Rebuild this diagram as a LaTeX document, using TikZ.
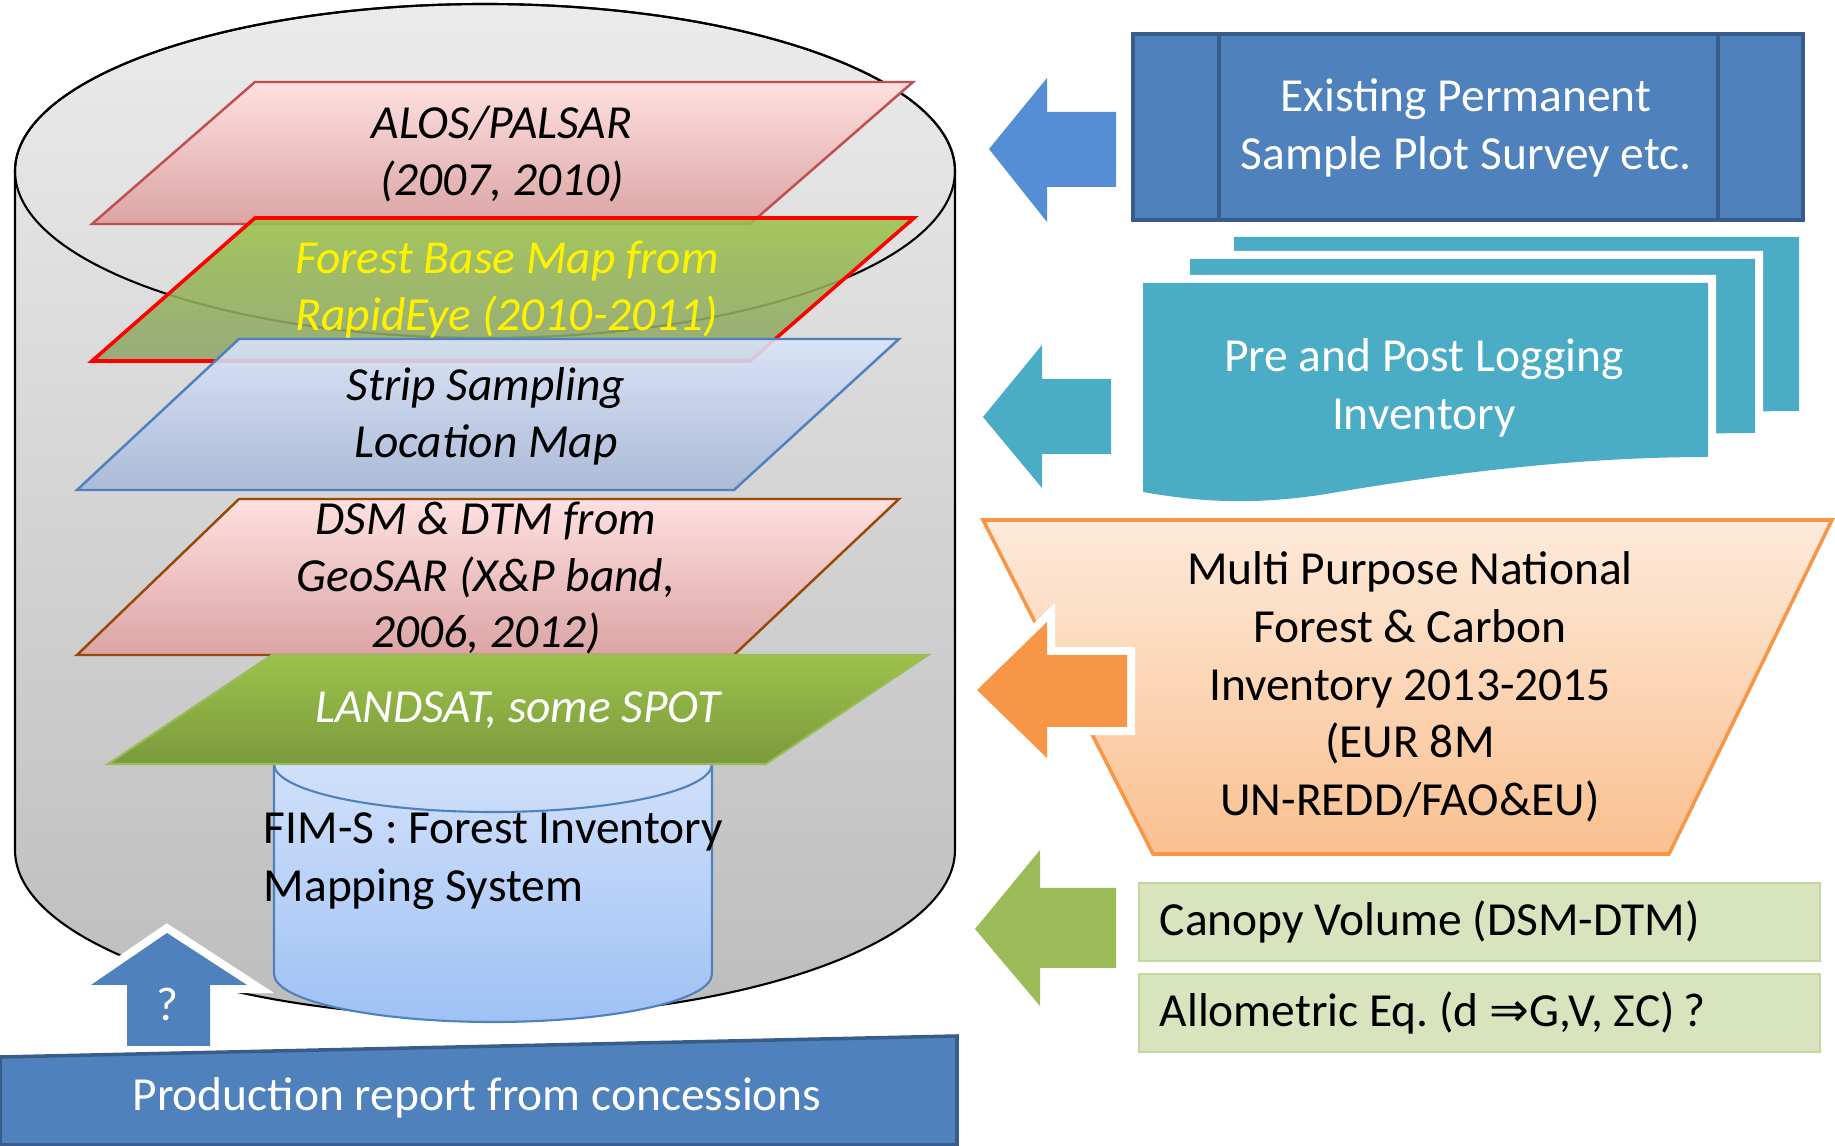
\documentclass[tikz,border=0pt]{standalone}
\usepackage{fontspec}
\setmainfont{Carlito}
\newfontfamily\symfont{DejaVu Sans}
\usetikzlibrary{shadows}
\definecolor{cylgraytop}{HTML}{EBEBEB}
\definecolor{cylgraybot}{HTML}{BDBDBD}
\definecolor{pinktop}{HTML}{FFE0E0}
\definecolor{pinkmid}{HTML}{FFB4B4}
\definecolor{pinkbot}{HTML}{DBA4A4}
\definecolor{greentop}{HTML}{9CC24A}
\definecolor{greenbot}{HTML}{8FA56E}
\definecolor{landtop}{HTML}{9CC24A}
\definecolor{landbot}{HTML}{7B9A3D}
\definecolor{bluetop}{HTML}{DAE5FB}
\definecolor{bluemid}{HTML}{B9CEF7}
\definecolor{bluebot}{HTML}{A6B7D8}
\definecolor{fimtop}{HTML}{DAE6FB}
\definecolor{fimbot}{HTML}{9FC1F5}
\definecolor{fimline}{HTML}{4F81BD}
\definecolor{officeblue}{HTML}{4F81BD}
\definecolor{officeblueline}{HTML}{385D8A}
\definecolor{arrowblue}{HTML}{558ED5}
\definecolor{teal}{HTML}{4BACC6}
\definecolor{orangeline}{HTML}{F79646}
\definecolor{orangetop}{HTML}{FDEADA}
\definecolor{orangebot}{HTML}{FAC090}
\definecolor{olive}{HTML}{9BBB59}
\definecolor{palegreen}{HTML}{D7E4BD}
\definecolor{palegreenline}{HTML}{C3D69B}
\definecolor{dsmline}{HTML}{984807}
\definecolor{alosline}{HTML}{C0504D}
\begin{document}
\frenchspacing
\begin{tikzpicture}[x=0.01cm,y=-0.01cm,
    every node/.style={font=\fontsize{13.5}{16.4}\selectfont, align=center, inner sep=0pt},
    layertext/.style={font=\fontsize{13.5}{16.2}\selectfont\itshape},
    layer/.style={fill opacity=0.88, line width=0.7pt},
    pinklayer/.style={layer, fill opacity=1, top color=pinktop, middle color=pinkmid, bottom color=pinkbot},
    whiteglow/.style={preaction={draw=white, fill=white, line width=4.6pt,
      drop shadow={opacity=0.22, shadow xshift=0.5mm, shadow yshift=-0.5mm}}},
    blockarrow/.style={whiteglow},
    docshape/.style={whiteglow, fill=teal}]
  \useasboundingbox (0,0) rectangle (1835,1146);

  % big database cylinder
  \shade[top color=cylgraytop, bottom color=cylgraybot, draw=black, line width=0.6pt]
    (15,171) -- (15,850) arc[start angle=180, end angle=0, x radius=470, y radius=167]
    -- (955,171) arc[start angle=0, end angle=-180, x radius=470, y radius=167] -- cycle;
  \draw[line width=0.6pt] (485,171) ellipse [x radius=470, y radius=167];

  % data layers
  \shade[pinklayer, draw=alosline]
    (255,82) -- (913,82) -- (750,224) -- (92,224) -- cycle;
  \shade[layer, top color=greentop, bottom color=greenbot, draw=red, line width=1pt]
    (255,218) -- (914,218) -- (750,361) -- (92,361) -- cycle;
  \shade[layer, top color=bluetop, middle color=bluemid, bottom color=bluebot, draw=fimline]
    (239,339) -- (899,339) -- (734,490) -- (77,490) -- cycle;
  \shade[pinklayer, draw=dsmline]
    (239,499) -- (899,499) -- (734,655) -- (77,655) -- cycle;

  % FIM-S cylinder
  \shade[top color=fimtop, bottom color=fimbot, draw=fimline, line width=0.6pt]
    (274,764) -- (274,974) arc[start angle=180, end angle=0, x radius=219, y radius=48]
    -- (712,764) arc[start angle=0, end angle=-180, x radius=219, y radius=48] -- cycle;
  \draw[fimline, line width=0.6pt] (274,764) arc[start angle=180, end angle=0, x radius=219, y radius=48];

  \shade[top color=landtop, bottom color=landbot, draw=olive, line width=0.6pt]
    (272,655) -- (928,655) -- (766,764) -- (108,764) -- cycle;

  \node[layertext] (alos) at (502,154) {ALOS/PALSAR\\(2007, 2010)};
  \node[layertext, text=yellow] (forestmap) at (507,290) {Forest Base Map from\\RapidEye (2010-2011)};
  \node[layertext] (strip) at (486,416) {Strip Sampling\\Location Map};
  \node[layertext] (dsm) at (486,578) {DSM \& DTM from\\GeoSAR (X\&P band,\\2006, 2012)};
  \node[layertext, text=white] (landsat) at (518,710) {LANDSAT, some SPOT};
  \node[anchor=west, align=left] (fims) at (263,861) {FIM-S : Forest Inventory\\Mapping System};

  % production report
  \fill[blockarrow, fill=officeblue]
    (167,933) -- (247,985) -- (210,985) -- (210,1046) -- (127,1046) -- (127,985) -- (91,985) -- cycle;
  \node[text=white] (question) at (167,1004) {?};
  \filldraw[fill=officeblue, draw=officeblueline, line width=1pt]
    (0,1057) -- (957,1036) -- (957,1145) -- (0,1145) -- cycle;
  \node[text=white] (production) at (477,1098) {Production report from concessions};

  % permanent sample plots
  \fill[blockarrow, fill=arrowblue]
    (989,149) -- (1047,78) -- (1047,112) -- (1116,112) -- (1116,187) -- (1047,187) -- (1047,222) -- cycle;
  \filldraw[fill=officeblue, draw=officeblueline, line width=1.2pt] (1133,34) rectangle (1803,220);
  \draw[officeblueline, line width=1.2pt] (1219,34) -- (1219,220) (1718,34) -- (1718,220);
  \node[text=white] (permanent) at (1466,128) {Existing Permanent\\Sample Plot Survey etc.};

  % logging inventory
  \fill[blockarrow, fill=teal]
    (983,417) -- (1042,345) -- (1042,379) -- (1111,379) -- (1111,454) -- (1042,454) -- (1042,488) -- cycle;
  \foreach \dx/\dy in {91/-46, 47/-24, 0/0} {
    \begin{scope}[shift={(\dx,\dy)}]
      \path[docshape] (1143,283) -- (1708,283) -- (1708,457)
        .. controls (1560,457) and (1420,478) .. (1320,495)
        .. controls (1250,505) and (1200,502) .. (1143,492) -- cycle;
    \end{scope}
  }
  \node[text=white] (logging) at (1424,388) {Pre and Post Logging\\Inventory};

  % national forest inventory
  \shade[top color=orangetop, bottom color=orangebot, draw=orangeline, line width=1pt]
    (983,520) -- (1832,520) -- (1669,854) -- (1153,854) -- cycle;
  \node (nfi) at (1410,687) {Multi Purpose National\\Forest \& Carbon\\Inventory 2013-2015\\(EUR 8M\\UN-REDD/FAO\&EU)};
  \fill[blockarrow, fill=orangeline]
    (977,690) -- (1047,622) -- (1047,655) -- (1127,655) -- (1127,727) -- (1047,727) -- (1047,758) -- cycle;

  % canopy and allometry
  \fill[blockarrow, fill=olive]
    (975,929) -- (1040,850) -- (1040,888) -- (1116,888) -- (1116,968) -- (1040,968) -- (1040,1006) -- cycle;
  \filldraw[fill=palegreen, draw=palegreenline, line width=0.8pt] (1139,883) rectangle (1820,961);
  \filldraw[fill=palegreen, draw=palegreenline, line width=0.8pt] (1139,974) rectangle (1820,1052);
  \node[anchor=west] (canopy) at (1159,922) {Canopy Volume (DSM-DTM)};
  \node[anchor=west] (allometric) at (1159,1013) {Allometric Eq. (d {\symfont ⇒}G,V, ΣC)\,?};
\end{tikzpicture}
\end{document}
